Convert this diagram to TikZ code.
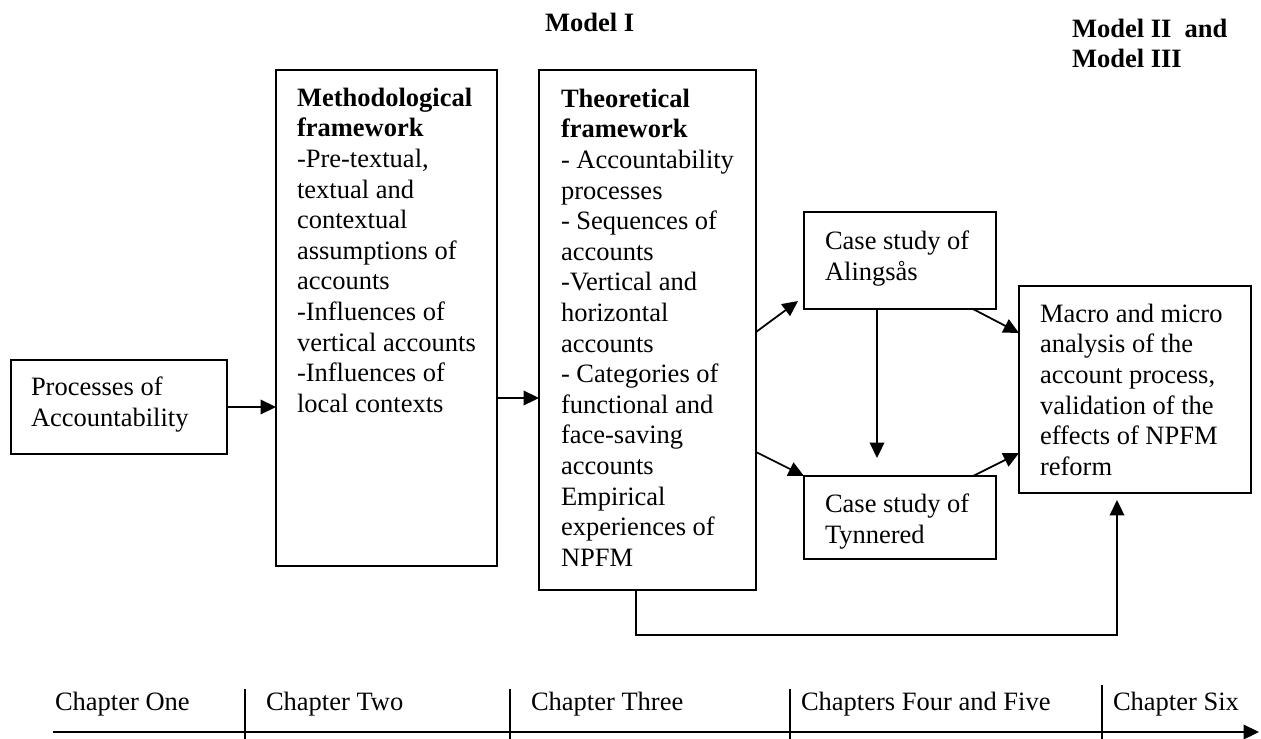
\documentclass[tikz,border=0pt]{standalone}
\usepackage{fontspec}
\setmainfont{Liberation Serif}
\usetikzlibrary{arrows.meta,fit}

\begin{document}
\begin{tikzpicture}[x=0.4528pt,y=-0.4528pt,
  every node/.style={inner sep=0pt,outer sep=0pt},
  frame/.style={draw,line width=0.8pt,inner sep=0pt},
  txt/.style={anchor=north west,align=left,font=\fontsize{12}{13.85}\selectfont},
  lbl/.style={anchor=base west,font=\fontsize{12}{13.85}\selectfont},
  ttl/.style={anchor=north west,align=left,font=\fontsize{12}{13.85}\selectfont\bfseries},
  conn/.style={line width=0.8pt},
  arr/.style={line width=0.8pt,-{Triangle[length=7pt,width=6.6pt]}}]
\useasboundingbox (0,0) rectangle (1261,738);

% headings
\node[ttl] (m1) at (545,13) {Model I};
\node[ttl] (m23) at (1072,19) {Model II\ \ and\\Model III};

% frames
\node[frame,fit={(11,360) (227,454)}] (proc) {};
\node[frame,fit={(276,70) (497,566)}] (meth) {};
\node[frame,fit={(539,70) (756,590)}] (theo) {};
\node[frame,fit={(804,212) (996,309)}] (alin) {};
\node[frame,fit={(804,476) (996,559)}] (tynn) {};
\node[frame,fit={(1019,286) (1251,493)}] (macro) {};

% frame contents
\node[txt] (proctxt) at (31,377) {Processes of\\Accountability};
\node[txt] (methtxt) at (297,88) {\textbf{Methodological}\\\textbf{framework}\\-Pre-textual,\\textual and\\contextual\\assumptions of\\accounts\\-Influences of\\vertical accounts\\-Influences of\\local contexts};
\node[txt] (theotxt) at (561,89) {\textbf{Theoretical}\\\textbf{framework}\\- Accountability\\processes\\- Sequences of\\accounts\\-Vertical and\\horizontal\\accounts\\- Categories of\\functional and\\face-saving\\accounts\\Empirical\\experiences of\\NPFM};
\node[txt] (alintxt) at (825,231) {Case study of\\Alingsås};
\node[txt] (tynntxt) at (825,494) {Case study of\\Tynnered};
\node[txt] (macrotxt) at (1040,304) {Macro and micro\\analysis of the\\account process,\\validation of the\\effects of NPFM\\reform};

% connectors
\coordinate (m2t) at (497,398);
\coordinate (t2aS) at (756,332);
\coordinate (t2aE) at (798,301);
\coordinate (t2tS) at (756,452);
\coordinate (a2mS) at (973,309);
\coordinate (a2mE) at (1019,333);
\coordinate (t2mS) at (973,476);
\coordinate (t2mE) at (1019,453);
\coordinate (a2t) at (877,458);
\coordinate (lp1) at (636,635);
\coordinate (lp2) at (1117,635);
\coordinate (lp3) at (1117,500);

\draw[arr] (proc.east) -- (proc.east -| meth.west);
\draw[arr] (m2t) -- (m2t -| theo.west);
\draw[arr] (t2aS) -- (t2aE);
\draw[arr] (t2tS) -- (tynn.north west);
\draw[arr] (a2mS) -- (a2mE);
\draw[arr] (t2mS) -- (t2mE);
\draw[arr] (alin.south -| a2t) -- (a2t);
\draw[arr] (theo.south -| lp1) -- (lp1) -- (lp2) -- (lp3);

% chapter time line
\coordinate (tl0) at (53,732);
\coordinate (tl1) at (1259,732);
\draw[arr] (tl0) -- (tl1);
\coordinate (k1) at (245,689);
\coordinate (k2) at (510,689);
\coordinate (k3) at (790,689);
\coordinate (k4) at (1102,685);
\foreach \k in {k1,k2,k3,k4}
  \draw[conn] (\k) -- (\k |- 0,745);
\node[lbl] (c1) at (55,710) {Chapter One};
\node[lbl] (c2) at (266,710) {Chapter Two};
\node[lbl] (c3) at (531,710) {Chapter Three};
\node[lbl] (c4) at (801,710) {Chapters Four and Five};
\node[lbl] (c5) at (1113,710) {Chapter Six};
\end{tikzpicture}
\end{document}
